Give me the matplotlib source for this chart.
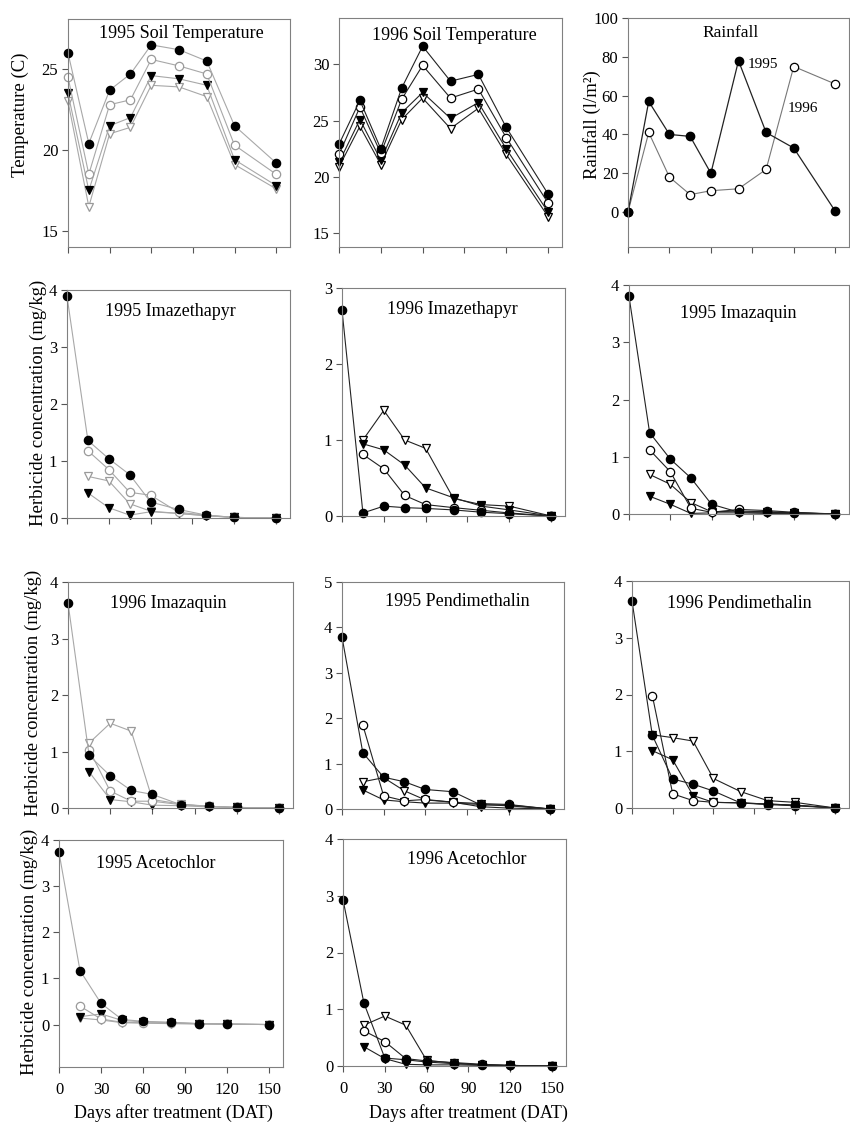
import numpy as np
import matplotlib.pyplot as plt

plt.rcParams['font.family'] = ['Liberation Serif', 'DejaVu Serif']

W, H = 850, 1124
nan = np.nan

days = [0, 15, 30, 45, 60, 80, 100, 120, 150]

# soil temperature (C), four series each year
temp95_a = [26.0, 20.4, 23.7, 24.7, 26.5, 26.2, 25.5, 21.5, 19.2]
temp95_b = [24.5, 18.5, 22.8, 23.1, 25.6, 25.2, 24.7, 20.3, 18.5]
temp95_c = [23.5, 17.5, 21.5, 22.0, 24.6, 24.4, 24.0, 19.4, 17.8]
temp95_d = [23.0, 16.5, 21.0, 21.4, 24.0, 23.9, 23.3, 19.1, 17.6]

temp96_a = [22.9, 26.8, 22.5, 27.9, 31.6, 28.5, 29.1, 24.4, 18.5]
temp96_b = [22.0, 26.2, 22.1, 26.9, 29.9, 27.0, 27.8, 23.5, 17.7]
temp96_c = [21.3, 25.1, 21.5, 25.7, 27.5, 25.2, 26.6, 22.5, 16.9]
temp96_d = [20.9, 24.5, 21.1, 25.1, 27.0, 24.3, 26.1, 22.0, 16.5]

# rainfall (l/m2)
rain95 = [0, 57, 40, 39, 20, 78, 41, 33, 0.5]
rain96 = [0, 41, 18, 9, 11, 12, 22, 75, 66]

# herbicide concentration (mg/kg)
imt95_a = [3.89, 1.36, 1.04, 0.76, 0.28, 0.15, 0.05, 0.01, 0.0]
imt95_b = [nan, 1.18, 0.85, 0.45, 0.40, 0.10, 0.05, 0.01, 0.0]
imt95_c = [nan, 0.44, 0.18, 0.05, 0.11, 0.08, 0.04, 0.01, 0.0]
imt95_d = [nan, 0.73, 0.65, 0.25, 0.12, 0.08, 0.04, 0.01, 0.0]

imt96_a = [2.71, 0.04, 0.13, 0.11, 0.10, 0.08, 0.05, 0.03, 0.0]
imt96_b = [nan, 0.81, 0.62, 0.27, 0.15, 0.11, 0.075, 0.04, 0.0]
imt96_c = [nan, 0.95, 0.87, 0.67, 0.37, 0.24, 0.13, 0.08, 0.0]
imt96_d = [nan, 1.00, 1.39, 1.00, 0.89, 0.23, 0.15, 0.13, 0.0]

imq95_a = [3.80, 1.42, 0.96, 0.63, 0.17, 0.03, 0.03, 0.02, 0.0]
imq95_b = [nan, 1.12, 0.74, 0.10, 0.03, 0.08, 0.06, 0.03, 0.0]
imq95_c = [nan, 0.31, 0.17, 0.01, 0.02, 0.02, 0.01, 0.01, 0.0]
imq95_d = [nan, 0.69, 0.52, 0.20, 0.04, 0.05, 0.04, 0.02, 0.0]

imq96_a = [3.63, 0.93, 0.57, 0.31, 0.24, 0.06, 0.03, 0.01, 0.0]
imq96_b = [nan, 1.03, 0.30, 0.12, 0.12, 0.06, 0.03, 0.01, 0.0]
imq96_c = [nan, 0.64, 0.15, 0.11, 0.05, 0.04, 0.02, 0.01, 0.0]
imq96_d = [nan, 1.15, 1.50, 1.36, 0.15, 0.07, 0.03, 0.01, 0.0]

pen95_a = [3.79, 1.24, 0.70, 0.60, 0.43, 0.38, 0.09, 0.09, 0.0]
pen95_b = [nan, 1.85, 0.29, 0.18, 0.21, 0.15, 0.12, 0.10, 0.0]
pen95_c = [nan, 0.42, 0.20, 0.16, 0.13, 0.13, 0.10, 0.07, 0.0]
pen95_d = [nan, 0.60, 0.69, 0.40, 0.20, 0.15, 0.05, 0.02, 0.0]

pen96_a = [3.65, 1.28, 0.51, 0.42, 0.30, 0.09, 0.07, 0.05, 0.0]
pen96_b = [nan, 1.98, 0.25, 0.13, 0.10, 0.09, 0.06, 0.04, 0.0]
pen96_c = [nan, 1.01, 0.85, 0.22, 0.10, 0.09, 0.07, 0.05, 0.0]
pen96_d = [nan, 1.29, 1.24, 1.18, 0.52, 0.29, 0.13, 0.10, 0.0]

ace95_a = [3.73, 1.17, 0.46, 0.11, 0.07, 0.05, 0.02, 0.01, 0.0]
ace95_b = [nan, 0.40, 0.12, 0.05, 0.04, 0.03, 0.02, 0.01, 0.0]
ace95_c = [nan, 0.17, 0.23, 0.09, 0.06, 0.04, 0.02, 0.01, 0.0]
ace95_d = [nan, 0.14, 0.10, 0.04, 0.03, 0.02, 0.01, 0.01, 0.0]

ace96_a = [2.93, 1.11, 0.14, 0.11, 0.07, 0.04, 0.02, 0.01, 0.0]
ace96_b = [nan, 0.62, 0.43, 0.13, 0.09, 0.06, 0.03, 0.01, 0.0]
ace96_c = [nan, 0.34, 0.13, 0.03, 0.02, 0.02, 0.01, 0.005, 0.0]
ace96_d = [nan, 0.72, 0.88, 0.72, 0.10, 0.05, 0.02, 0.01, 0.0]

fig = plt.figure(figsize=(W / 100, H / 100), dpi=100)


def make_axes(l, t, r, b):
    return fig.add_axes([l / W, 1 - b / H, (r - l) / W, (b - t) / H])


def ftext(x, y, s, **kw):
    fig.text(x / W, 1 - y / H, s, ha='center', va='center', **kw)


def panel(box, series, ylim, yticks, title, tpos, faded=False, xlab=False):
    ax = make_axes(*box)
    lc = '#a8a8a8' if faded else '#222222'
    oc = '#9a9a9a' if faded else 'black'
    a, b, c, d = series
    styles = [(d, 'v', 'white', oc), (c, 'v', 'black', 'black'),
              (b, 'o', 'white', oc), (a, 'o', 'black', 'black')]
    for ys, m, fc, ec in styles:
        ax.plot(days, ys, color=lc, lw=0.8, marker=m, ms=6,
                mfc=fc, mec=ec, mew=0.9, clip_on=False)
    style_axes(ax, ylim, yticks, xlab)
    ftext(*tpos, title, fontsize=13)
    return ax


def style_axes(ax, ylim, yticks, xlab):
    ax.set_xlim(0, 160)
    ax.set_ylim(*ylim)
    ax.set_xticks([0, 30, 60, 90, 120, 150])
    ax.set_yticks(yticks)
    for s in ax.spines.values():
        s.set_color('#808080')
        s.set_linewidth(0.8)
    ax.tick_params(direction='out', length=4, width=0.8, labelsize=12, pad=3,
                   labelbottom=xlab, color='#555555')
    if xlab:
        ax.tick_params(axis='x', pad=7)


panel((68, 19, 290, 247), (temp95_a, temp95_b, temp95_c, temp95_d),
      (14, 28.1), [15, 20, 25], '1995 Soil Temperature', (181, 34), faded=True)
panel((339, 18, 562, 247), (temp96_a, temp96_b, temp96_c, temp96_d),
      (13.8, 34.1), [15, 20, 25, 30], '1996 Soil Temperature', (454, 35))

# rainfall
ax = make_axes(628, 18, 849, 247)
ax.plot(days, rain96, color='#777777', lw=0.8, marker='o', ms=6, mfc='white',
        mec='black', mew=0.9, clip_on=False)
ax.plot(days, rain95, color='#222222', lw=0.9, marker='o', ms=6, mfc='black',
        mec='black', clip_on=False)
style_axes(ax, (-18, 100), [0, 20, 40, 60, 80, 100], False)
ftext(731, 33, 'Rainfall', fontsize=12.5)
ftext(763, 64, '1995', fontsize=11)
ftext(803, 108, '1996', fontsize=11)

panel((67, 290, 290, 518), (imt95_a, imt95_b, imt95_c, imt95_d),
      (0, 4), [0, 1, 2, 3, 4], '1995 Imazethapyr', (170, 311), faded=True)
panel((342, 288, 565, 516), (imt96_a, imt96_b, imt96_c, imt96_d),
      (0, 3), [0, 1, 2, 3], '1996 Imazethapyr', (452, 309))
panel((629, 285, 849, 514), (imq95_a, imq95_b, imq95_c, imq95_d),
      (0, 4), [0, 1, 2, 3, 4], '1995 Imazaquin', (738, 313))

panel((68, 582, 293, 808), (imq96_a, imq96_b, imq96_c, imq96_d),
      (0, 4), [0, 1, 2, 3, 4], '1996 Imazaquin', (168, 603), faded=True)
panel((342, 582, 564, 809), (pen95_a, pen95_b, pen95_c, pen95_d),
      (0, 5), [0, 1, 2, 3, 4, 5], '1995 Pendimethalin', (457, 602))
panel((632, 581, 849, 808), (pen96_a, pen96_b, pen96_c, pen96_d),
      (0, 4), [0, 1, 2, 3, 4], '1996 Pendimethalin', (739, 603))

panel((59, 840, 283, 1067), (ace95_a, ace95_b, ace95_c, ace95_d),
      (-0.92, 4), [0, 1, 2, 3, 4], '1995 Acetochlor', (156, 863),
      faded=True, xlab=True)
panel((343, 839, 566, 1066), (ace96_a, ace96_b, ace96_c, ace96_d),
      (0, 4), [0, 1, 2, 3, 4], '1996 Acetochlor', (467, 860), xlab=True)

# axis labels
ftext(20, 115, 'Temperature (C)', fontsize=13.5, rotation=90)
ftext(592, 125, 'Rainfall (l/m²)', fontsize=13.5, rotation=90)
ftext(38, 403, 'Herbicide concentration (mg/kg)', fontsize=13.5, rotation=90)
ftext(33, 693, 'Herbicide concentration (mg/kg)', fontsize=13.5, rotation=90)
ftext(29, 952, 'Herbicide concentration (mg/kg)', fontsize=13.5, rotation=90)
ftext(173, 1113, 'Days after treatment (DAT)', fontsize=13)
ftext(468, 1113, 'Days after treatment (DAT)', fontsize=13)

fig.savefig('out.png', dpi=100)
